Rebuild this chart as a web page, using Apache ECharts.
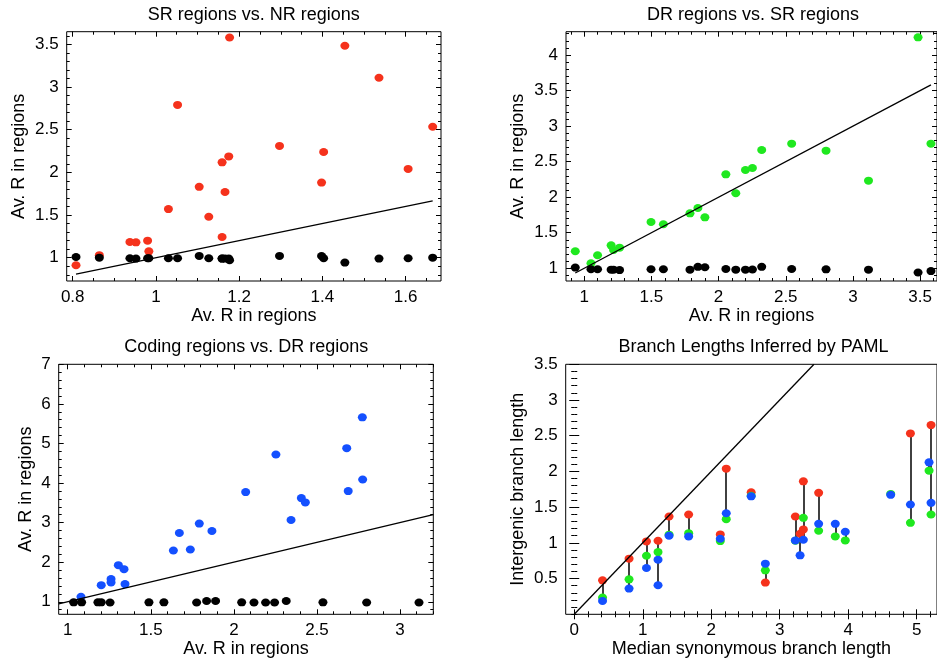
<!DOCTYPE html>
<html><head><meta charset="utf-8">
<script src="https://cdn.jsdelivr.net/npm/echarts@6/dist/echarts.min.js"></script>
<style>html,body{margin:0;padding:0;background:#fff}#c{width:937px;height:661px}</style>
</head><body><div id="c"></div><script>
// ---------- Panel 1: SR regions vs. NR regions ----------
const p1X     = [0.808,0.864,0.9375,0.952,0.980,0.983,1.030,1.052,1.104,1.127,1.159,1.159,1.166,1.175,1.177,1.297,1.398,1.403,1.454,1.536,1.606,1.665];
const p1Red   = [0.911,1.03,1.184,1.18,1.20,1.075,1.57,2.79,1.83,1.48,2.117,1.242,1.77,2.187,3.58,2.31,1.88,2.238,3.483,3.108,2.04,2.534];
const p1Black = [1.008,1.0,0.994,0.99,0.994,0.994,0.994,0.994,1.021,0.994,0.99,0.99,0.99,0.99,0.97,1.021,1.02,0.994,0.943,0.99,0.994,1.0];
const p1XLabels = [0.8,1,1.2,1.4,1.6];
const p1YLabels = [1,1.5,2,2.5,3,3.5];

// ---------- Panel 2: DR regions vs. SR regions ----------
const p2X     = [0.933,1.050,1.099,1.20,1.218,1.263,1.497,1.589,1.787,1.846,1.898,2.054,2.128,2.20,2.252,2.321,2.544,2.80,3.116,3.485,3.581];
const p2Green = [1.239,1.07,1.183,1.323,1.257,1.29,1.651,1.619,1.773,1.848,1.717,2.322,2.055,2.383,2.41,2.664,2.753,2.654,2.232,4.249,2.753];
const p2Black = [1.01,0.986,0.986,0.98,0.98,0.975,0.986,0.986,0.98,1.02,1.015,0.99,0.98,0.98,0.983,1.02,0.99,0.985,0.98,0.94,0.96];
const p2XLabels = [1,1.5,2,2.5,3,3.5];
const p2YLabels = [1,1.5,2,2.5,3,3.5,4];

// ---------- Panel 3: Coding regions vs. DR regions ----------
const p3BlueX = [1.080,1.202,1.261,1.261,1.305,1.339,1.345,1.636,1.672,1.738,1.792,1.868,2.071,2.253,2.344,2.406,2.43,2.679,2.688,2.775,2.773];
const p3BlueY = [1.126,1.42,1.572,1.489,1.925,1.824,1.446,2.294,2.738,2.32,2.975,2.788,3.771,4.72,3.066,3.62,3.511,4.88,3.796,4.09,5.66];
const p3BlackX = [1.036,1.084,1.182,1.202,1.255,1.489,1.579,1.776,1.836,1.890,2.047,2.121,2.191,2.245,2.315,2.536,2.799,3.114];
const p3BlackY = [0.985,0.985,0.985,0.985,0.98,0.985,0.985,0.98,1.02,1.02,0.985,0.98,0.98,0.98,1.02,0.985,0.98,0.98];
const p3XLabels = [1,1.5,2,2.5,3];
const p3YLabels = [1,2,3,4,5,6,7];

// ---------- Panel 4: Branch Lengths Inferred by PAML ----------
const p4X     = [0.413,0.80,1.054,1.223,1.384,1.67,2.132,2.219,2.583,2.79,3.228,3.297,3.345,3.568,3.811,3.957,4.62,4.908,5.18,5.209];
const p4Red   = [0.476,0.779,1.02,1.03,1.369,1.397,1.118,2.039,1.708,0.444,1.369,1.128,1.862,1.70,null,null,null,2.532,null,2.649];
const p4Green = [0.235,0.49,0.82,0.871,1.115,1.136,1.025,1.332,1.66,0.616,1.03,null,1.351,1.17,1.09,1.034,1.685,1.281,2.011,1.397];
const p4Blue  = [0.187,0.36,0.648,0.407,1.10,1.09,1.058,1.415,1.652,0.709,1.034,0.825,1.044,1.267,1.267,1.156,1.672,1.537,2.127,1.56];
const p4ExtraRedX = [3.345],  p4ExtraRedY = [1.188];
const p4ExtraBlueX = [1.223], p4ExtraBlueY = [0.765];
const p4XLabels = [0,1,2,3,4,5];
const p4YLabels = [0.5,1,1.5,2,2.5,3,3.5];

const RED = '#f5321c', GREEN = '#1fe81f', BLUE = '#1450ff', BLACK = '#000';
const FONT = 'Liberation Sans';
const TXT = {color:'#000', fontSize:17, fontFamily:FONT};
const NAME_TXT = {color:'#000', fontSize:18, fontFamily:FONT};

function steps(lo, hi, step){
  const out=[]; const s=Math.ceil(lo/step-1e-9);
  for(let k=s; k*step<=hi+1e-9; k++) out.push(+(k*step).toFixed(4));
  return out;
}
function axesFor(isX, g, min, max, labels, minorStep, name, nameGap){
  const posA = isX?'bottom':'left', posB = isX?'top':'right';
  const minors = steps(min,max,minorStep);
  const mk = (pos, vals, len, withLabel) => ({
    type:'value', gridIndex:g, min, max, position:pos,
    splitLine:{show:false}, axisLine:{show:false},
    axisTick:{show:true, inside:true, length:len, customValues:vals, lineStyle:{color:'#000', width:1}},
    axisLabel: withLabel ? Object.assign({show:true, margin:8, customValues:labels}, TXT) : {show:false},
    name: withLabel ? name : '', nameLocation:'middle', nameGap, nameTextStyle:NAME_TXT
  });
  return [mk(posA, labels, 5, true), mk(posA, minors, 3, false), mk(posB, labels, 5, false), mk(posB, minors, 3, false)];
}
const pairs = (xs, ys) => xs.map((x,i)=>[x, ys[i]]).filter(p=>p[1]!=null);
function scatter(g, data, color){
  return {type:'scatter', xAxisIndex:4*g, yAxisIndex:4*g, data, symbolSize:[9,8],
          itemStyle:{color, opacity:1}, emphasis:{disabled:true}, silent:true};
}
function diag(g, a, b){
  return {type:'line', xAxisIndex:4*g, yAxisIndex:4*g, data:[[a,a],[b,b]], showSymbol:false, symbol:'none',
          lineStyle:{color:'#000', width:1.3}, silent:true};
}

const grids = [
  {left:66.7, top:31.7, width:374.3, height:249.3},
  {left:566,  top:31.7, width:372,   height:249.3},
  {left:58.7, top:364.3, width:374.6, height:250},
  {left:565.7, top:364.3, width:372.3, height:250}
].map(r=>Object.assign({show:true, borderColor:'#000', borderWidth:1, backgroundColor:'transparent'}, r));

const xAxes = [].concat(
  axesFor(true, 0, 0.7856, 1.685, p1XLabels, 0.05, 'Av. R in regions', 21),
  axesFor(true, 1, 0.864, 3.626, p2XLabels, 0.1, 'Av. R in regions', 21),
  axesFor(true, 2, 0.946, 3.2, p3XLabels, 0.1, 'Av. R in regions', 21),
  axesFor(true, 3, -0.125, 5.296, p4XLabels, 0.2, 'Median synonymous branch length', 21)
);
const yAxes = [].concat(
  axesFor(false, 0, 0.727, 3.648, p1YLabels, 0.1, 'Av. R in regions', 39),
  axesFor(false, 1, 0.821, 4.328, p2YLabels, 0.1, 'Av. R in regions', 39),
  axesFor(false, 2, 0.683, 7.0, p3YLabels, 0.2, 'Av. R in regions', 24),
  axesFor(false, 3, 0, 3.5, p4YLabels, 0.1, 'Intergenic branch length', 39)
);

// vertical connectors in panel 4 (from the values of each group)
const p4Segs = p4X.map((x,i)=>{
  const vals = [p4Red[i], p4Green[i], p4Blue[i]].filter(v=>v!=null);
  p4ExtraRedX.forEach((ex,k)=>{ if(ex===x) vals.push(p4ExtraRedY[k]); });
  p4ExtraBlueX.forEach((ex,k)=>{ if(ex===x) vals.push(p4ExtraBlueY[k]); });
  return {coords:[[x, Math.min(...vals)],[x, Math.max(...vals)]]};
});

const titleStyle = {fontSize:18, fontWeight:'normal', color:'#000', fontFamily:FONT};
const option = {
  animation:false,
  backgroundColor:'#fff',
  title:[
    {text:'SR regions vs. NR regions', left:253.7, top:6, textAlign:'center', padding:0, textStyle:titleStyle},
    {text:'DR regions vs. SR regions', left:753, top:6, textAlign:'center', padding:0, textStyle:titleStyle},
    {text:'Coding regions vs. DR regions', left:246.3, top:338, textAlign:'center', padding:0, textStyle:titleStyle},
    {text:'Branch Lengths Inferred by PAML', left:753.5, top:338, textAlign:'center', padding:0, textStyle:titleStyle}
  ],
  grid:grids, xAxis:xAxes, yAxis:yAxes,
  series:[
    scatter(0, pairs(p1X,p1Red), RED),
    scatter(0, pairs(p1X,p1Black), BLACK),
    diag(0, 0.808, 1.665),
    scatter(1, pairs(p2X,p2Green), GREEN),
    scatter(1, pairs(p2X,p2Black), BLACK),
    diag(1, 0.933, 3.581),
    scatter(2, pairs(p3BlueX,p3BlueY), BLUE),
    scatter(2, pairs(p3BlackX,p3BlackY), BLACK),
    diag(2, 0.946, 3.2),
    scatter(3, pairs(p4X,p4Red).concat(pairs(p4ExtraRedX,p4ExtraRedY)), RED),
    scatter(3, pairs(p4X,p4Green), GREEN),
    scatter(3, pairs(p4X,p4Blue).concat(pairs(p4ExtraBlueX,p4ExtraBlueY)), BLUE),
    {type:'lines', coordinateSystem:'cartesian2d', xAxisIndex:12, yAxisIndex:12, data:p4Segs,
     lineStyle:{color:'#111', width:1.6, opacity:1}, silent:true},
    diag(3, 0, 3.5)
  ]
};
echarts.init(document.getElementById('c'), null, {renderer:'canvas'}).setOption(option);
</script></body></html>
